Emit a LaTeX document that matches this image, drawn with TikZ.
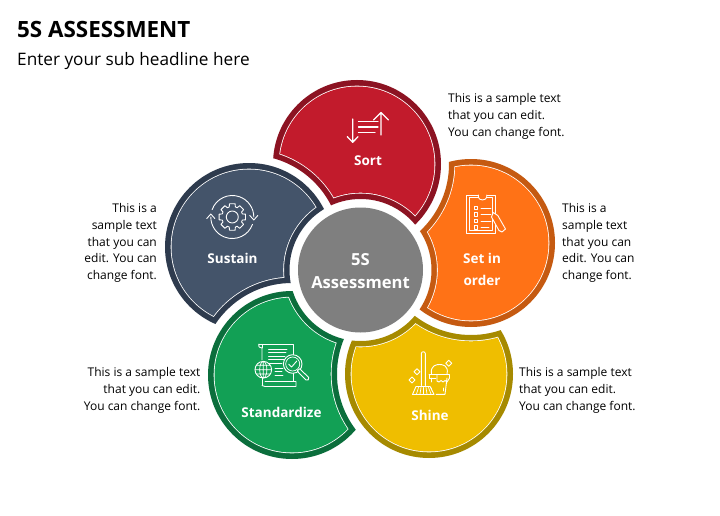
\documentclass[tikz,border=0pt]{standalone}
\usepackage{fontspec}
\setmainfont{Open Sans}
\definecolor{sortD}{HTML}{8C1322}\definecolor{sortF}{HTML}{C21B2C}
\definecolor{ordD}{HTML}{C55A11}\definecolor{ordF}{HTML}{FF7216}
\definecolor{shiD}{HTML}{A68A00}\definecolor{shiF}{HTML}{EFBE00}
\definecolor{staD}{HTML}{0B6E3C}\definecolor{staF}{HTML}{12A055}
\definecolor{susD}{HTML}{2E3B4E}\definecolor{susF}{HTML}{44546A}
\definecolor{cenF}{HTML}{7F7F7F}
\newcommand{\petallayer}[8]{% cx cy nx ny R biteN biteC color
  \begin{scope}[even odd rule]
    \clip (-100,-100) rectangle (900,700) (#3,#4) circle (#6);
    \clip (-100,-100) rectangle (900,700) (360.5,270) circle (#7);
    \fill[#8] (#1,#2) circle (#5);
  \end{scope}}
\newcommand{\petal}[6]{%
  \petallayer{#1}{#2}{#3}{#4}{84}{92}{71}{#5}
  \petallayer{#1}{#2}{#3}{#4}{78.3}{97.5}{76.5}{white}
  \petallayer{#1}{#2}{#3}{#4}{77.5}{98.3}{77.3}{#6}}
\tikzset{
  txt/.style={font=\fontsize{12}{16.6}\selectfont,text=black,inner sep=0pt},
  lbl/.style={font=\fontsize{13.5}{22}\selectfont\bfseries,text=white,inner sep=0pt,align=center},
  ico/.style={draw=white,line width=0.9pt,line cap=round,line join=round},
  icob/.style={draw=white,line width=1.3pt,line cap=round,line join=round},
  icot/.style={draw=white,line width=0.7pt,line cap=round,line join=round}
}
\begin{document}
\begin{tikzpicture}[x=1pt,y=-1pt]
\useasboundingbox (0,0) rectangle (720,516);
\fill[white] (0,0) rectangle (720,516);
\node[anchor=west,inner sep=0pt,font=\fontsize{22.4}{26}\selectfont\bfseries] (title) at (17,30) {5S ASSESSMENT};
\node[anchor=west,inner sep=0pt,font=\fontsize{17.2}{20}\selectfont] (sub) at (17,61.5) {Enter your sub headline here};
% petals
\petal{357}{164}{249}{247}{sortD}{sortF}
\petal{471}{243}{357}{164}{ordD}{ordF}
\petal{429}{374}{471}{243}{shiD}{shiF}
\petal{292}{375}{429}{374}{staD}{staF}
\petal{249}{247}{292}{375}{susD}{susF}
% centre
\fill[cenF] (360.5,270) circle (62.5);
\node[lbl,font=\fontsize{16.6}{23}\selectfont\bfseries] (c) at (360.5,271) {5S\\Assessment};
% labels
\node[lbl] (sort) at (368,161) {Sort};
\node[lbl] (order) at (482,269.5) {Set in\\order};
\node[lbl] (shine) at (430,415) {Shine};
\node[lbl] (std) at (281.5,412) {Standardize};
\node[lbl] (sus) at (232.5,258.5) {Sustain};
% texts
\node[txt,anchor=north west,align=left] (t1) at (448,93.5) {This is a sample text\\that you can edit.\\You can change font.};
\node[txt,anchor=north west,align=left] (t2) at (562,203.5) {This is a\\sample text\\that you can\\edit. You can\\change font.};
\node[txt,anchor=north west,align=left] (t3) at (519,367.5) {This is a sample text\\that you can edit.\\You can change font.};
\node[txt,anchor=north east,align=right] (t4) at (200.5,367.5) {This is a sample text\\that you can edit.\\You can change font.};
\node[txt,anchor=north east,align=right] (t5) at (157,203.5) {This is a\\sample text\\that you can\\edit. You can\\change font.};
% sort icon
\draw[icob] (352.7,119) -- (352.7,142) (347.3,136.7) -- (352.7,142.3) -- (358,136.7);
\draw[icob] (381,135) -- (381,112.5) (373.5,120) -- (381,112.5) -- (388.5,120);
\draw[icob] (358.5,121.5) -- (378,121.5) (358.5,127) -- (378,127) (358.5,132.5) -- (375,132.5);
% clipboard icon
\draw[ico] (466.7,195) rectangle (495,233);
\draw[icot] (469.3,197.5) rectangle (492.7,230.7);
\filldraw[ico,fill=ordF] (478.3,195) -- (478.3,197) arc (180:0:4.2 and 3) -- (486.7,195);
\foreach \y in {208,214.5,221,227.5}{\draw[icot] (474.2,\y-1.7) rectangle (477.6,\y+1.7);}
\foreach \y in {208,214.5,221}{\draw[ico] (481,\y) -- (491,\y);}
\draw[ico] (481,227.5) -- (489,227.5);
\filldraw[ico,fill=ordF] (493.2,212.5) -- (497.8,215.5) -- (505.5,229) -- (502,232) -- (499,230.5) -- (491.5,217) -- cycle;
% gear icon
\begin{scope}[shift={(232.3,217)}]
\draw[ico] (0,0) circle (6);
\draw[ico] (-12:13.5) \foreach \a in {0,45,...,315}{ -- (\a-12:13.5) -- (\a+12:13.5) -- (\a+17:10.5) -- (\a+28:10.5)} -- cycle;
\draw[ico] (200:21.5) arc (200:360:21.5);
\draw[ico] (17.5,-1.5) -- (21.5,3) -- (25.5,-1.5);
\draw[ico] (20:21.5) arc (20:180:21.5);
\draw[ico] (-25.5,1.5) -- (-21.5,-3) -- (-17.5,1.5);
\end{scope}
% document icon
\draw[ico] (262,378) -- (262,385.5) (259,344) -- (293.3,344) -- (293.3,381.5);
\draw[ico] (259,344) .. controls (258,347) and (260,348) .. (262,348) -- (262,360);
\draw[ico] (259,344) -- (262,344) -- (262,348);
\draw[ico] (265,381.5) -- (296,381.5) -- (296,386.5) -- (265,386.5) -- (262,385.5);
\foreach \y/\e in {349/287,352.5/286,356/285,359.5/284,363/282}{\draw[icot] (268.5,\y) -- (\e,\y);}
\foreach \y/\e in {368/283,371.5/282,375/283}{\draw[icot] (275,\y) -- (\e,\y);}
\filldraw[ico,fill=staF] (263.3,369.7) circle (8.3);
\draw[icot] (263.3,369.7) ellipse (3.6 and 8.3) (255,369.7) -- (271.6,369.7) (256.3,365.3) -- (270.3,365.3) (256.3,374) -- (270.3,374) (263.3,361.4) -- (263.3,378);
\filldraw[ico,fill=staF] (292.7,364) circle (9.3);
\draw[icot] (292.7,364) circle (7);
\draw[ico] (288.8,364.2) -- (291.6,367) -- (296.8,361);
\filldraw[ico,fill=staF] (299.8,368.7) -- (302,371) -- (308.8,377.5) .. controls (309.5,379.5) and (307.5,381) .. (306,380) -- (298.5,372.5) -- (297.5,370.5) -- cycle;
% mop icon
\draw[ico] (421.3,385.5) -- (421.3,353.5) arc (180:360:2 and 1.8) -- (425.3,385.5);
\draw[ico] (416,386.5) -- (430,386.5) -- (434,394.5) -- (412.5,394.5) -- cycle;
\foreach \x/\b in {418.5/416.5,421/420,423.5/423.5,426/427,428.5/431}{\draw[icot] (\x,387.5) -- (\b,394);}
\draw[ico] (429,374.5) -- (449.5,374.5) -- (449.5,378) (429,374.5) -- (429,378) -- (436,378);
\draw[ico] (431,378) -- (431,382) (431,388) -- (431,390);
\draw[ico] (436,394.3) -- (445,394.3) -- (447,378);
\draw[ico] (431.5,374) .. controls (430,365) and (437,364.5) .. (439.5,364.5) .. controls (442,364.5) and (449,365) .. (447,374);
\draw[ico] (437,374.5) -- (437,381) -- (439,382) -- (441,380.5) -- (443,382) -- (445,380.5) -- (447,382) -- (449.5,378);
\draw[ico] (443,388) -- (443,391);
\foreach \x/\y/\r in {417/371.7/3,412/380/3,448.7/363.3/3}{\draw[ico] (\x-\r,\y) -- (\x,\y-\r) -- (\x+\r,\y) -- (\x,\y+\r) -- cycle;}
\end{tikzpicture}
\end{document}
